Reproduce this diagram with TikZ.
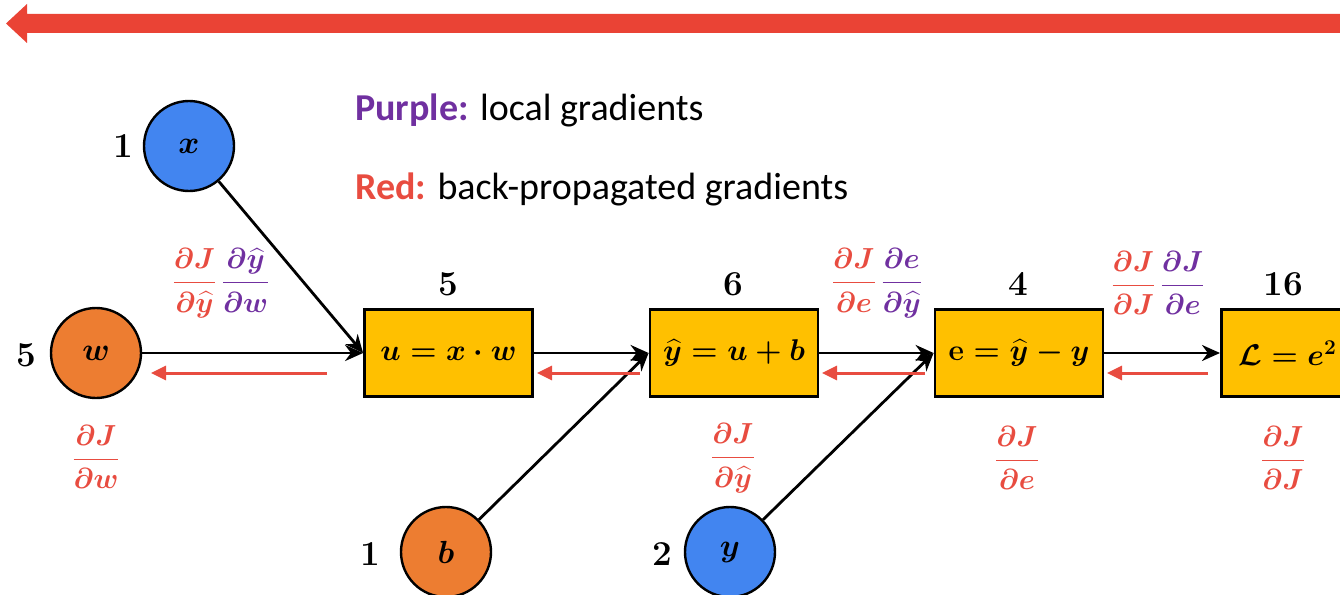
\RequirePackage{fix-cm}
\documentclass[tikz,border=0pt]{standalone}
\usepackage{amsmath}
\usepackage{fontspec}
\setsansfont{Carlito}
\usetikzlibrary{arrows.meta}
\definecolor{cblue}{RGB}{66,133,240}
\definecolor{corange}{RGB}{237,125,49}
\definecolor{boxyellow}{RGB}{255,192,0}
\definecolor{gred}{RGB}{232,76,64}
\definecolor{topred}{RGB}{234,67,53}
\definecolor{gpurple}{RGB}{112,48,160}
\tikzset{
  valnode/.style={circle, draw=black, line width=2.4pt, minimum size=90pt, inner sep=0pt,
    font=\fontsize{32}{36}\selectfont\boldmath},
  opbox/.style={draw=black, line width=2.8pt, fill=boxyellow, minimum width=168pt,
    minimum height=87pt, inner sep=0pt, font=\fontsize{30}{34}\selectfont\boldmath},
  numlbl/.style={font=\fontsize{35}{40}\selectfont\bfseries, inner sep=0pt},
  gradlbl/.style={font=\fontsize{29}{34}\selectfont\boldmath, inner sep=0pt},
  legend/.style={anchor=base west, inner sep=0pt, font=\sffamily\fontsize{38}{44}\selectfont},
  fwd/.style={draw=black, line width=2.8pt, -{Stealth[length=18pt,width=16pt]}},
  back/.style={draw=gred, line width=3pt, -{Triangle[length=15pt,width=14pt]}}
}
\begin{document}
\begin{tikzpicture}[x=1pt,y=-1pt]
\useasboundingbox (0,0) rectangle (1340,594);
\clip (0,0) rectangle (1340,594);
% top red arrow
\fill[topred] (1345,14) -- (27,14) -- (27,4) -- (6,23.5) -- (27,43) -- (27,33) -- (1345,33) -- cycle;

% legend
\node[legend] (leg1) at (355,120) {\textcolor{gpurple}{\bfseries Purple:} local gradients};
\node[legend] (leg2) at (355,199) {\textcolor{gred}{\bfseries Red:} back-propagated gradients};

% value nodes
\node[valnode, fill=cblue] (x) at (189,146) {$x$};
\node[valnode, fill=corange] (w) at (96,353) {$w$};
\node[valnode, fill=corange] (b) at (446,552) {$b$};
\node[valnode, fill=cblue] (y) at (730,552) {$y$};

% operation boxes
\node[opbox] (u) at (448.5,353) {$u = x\cdot w$};
\node[opbox] (yh) at (734,353) {$\widehat{y} = u + b$};
\node[opbox] (e) at (1019,353) {$\mathbf{e} = \widehat{y} - y$};
\node[opbox, anchor=west, minimum width=132pt] (L) at (1220,353) {$\mathcal{L} = e^{2}$};

% numeric values
\node[numlbl] (vx) at (123,146) {1};
\node[numlbl] (vw) at (26,355) {5};
\node[numlbl] (vb) at (370,554) {1};
\node[numlbl] (vy) at (662,554) {2};
\node[numlbl] (vu) at (448,284) {5};
\node[numlbl] (vyh) at (733,284) {6};
\node[numlbl] (ve) at (1018,284) {4};
\node[numlbl] (vL) at (1283,284) {16};

% forward connectors
\draw[fwd] (w) -- (u.west);
\draw[fwd] (x) -- (u.west);
\draw[fwd] (u) -- (yh);
\draw[fwd] (b) -- (yh.west);
\draw[fwd] (yh) -- (e);
\draw[fwd] (y) -- (e.west);
\draw[fwd] (e) -- (L);

% backward connectors
\coordinate (r1s) at (327,373); \coordinate (r1e) at (151,373);
\coordinate (r2s) at (640,373); \coordinate (r2e) at (537,373);
\coordinate (r3s) at (925,373); \coordinate (r3e) at (822,373);
\coordinate (r4s) at (1208,373); \coordinate (r4e) at (1107,373);
\draw[back] (r1s) -- (r1e);
\draw[back] (r2s) -- (r2e);
\draw[back] (r3s) -- (r3e);
\draw[back] (r4s) -- (r4e);

% gradient labels
\node[gradlbl] (g1) at (221,283) {$\textcolor{gred}{\dfrac{\partial J}{\partial\widehat{y}}}\,\textcolor{gpurple}{\dfrac{\partial\widehat{y}}{\partial w}}$};
\node[gradlbl] (g2) at (877,283) {$\textcolor{gred}{\dfrac{\partial J}{\partial e}}\,\textcolor{gpurple}{\dfrac{\partial e}{\partial\widehat{y}}}$};
\node[gradlbl] (g3) at (1158,283) {$\textcolor{gred}{\dfrac{\partial J}{\partial J}}\,\textcolor{gpurple}{\dfrac{\partial J}{\partial e}}$};
\node[gradlbl] (g4) at (96,457) {$\textcolor{gred}{\dfrac{\partial J}{\partial w}}$};
\node[gradlbl] (g5) at (733,458) {$\textcolor{gred}{\dfrac{\partial J}{\partial\widehat{y}}}$};
\node[gradlbl] (g6) at (1017,458) {$\textcolor{gred}{\dfrac{\partial J}{\partial e}}$};
\node[gradlbl] (g7) at (1283,458) {$\textcolor{gred}{\dfrac{\partial J}{\partial J}}$};
\end{tikzpicture}
\end{document}
